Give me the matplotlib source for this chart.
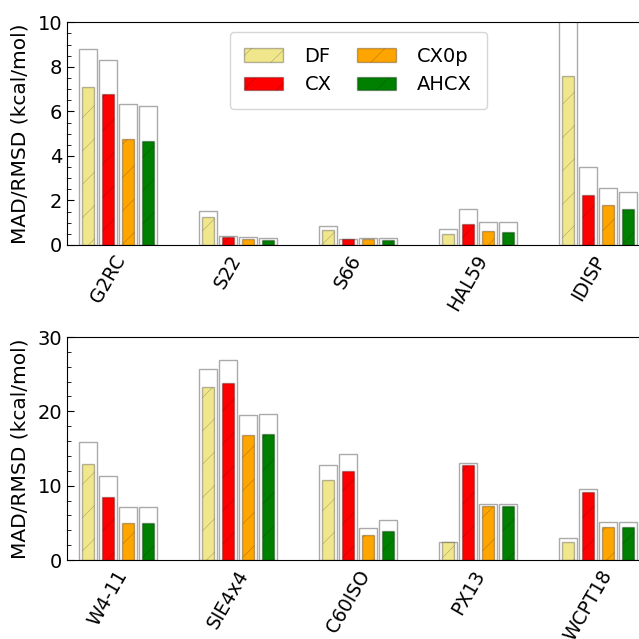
import numpy as np
import matplotlib
matplotlib.use("Agg")
import matplotlib.pyplot as plt
from matplotlib.ticker import AutoMinorLocator, MultipleLocator

methods = ["DF", "CX", "CX0p", "AHCX"]
colors = ["khaki", "red", "orange", "green"]

sets_top = ["G2RC", "S22", "S66", "HAL59", "IDISP"]
mad_top = {
    "DF":   [7.08, 1.24, 0.66, 0.48, 7.57],
    "CX":   [6.77, 0.35, 0.27, 0.93, 2.25],
    "CX0p": [4.75, 0.27, 0.27, 0.61, 1.78],
    "AHCX": [4.68, 0.24, 0.24, 0.60, 1.60],
}
rmsd_top = {
    "DF":   [8.79, 1.54, 0.87, 0.73, 13.5],
    "CX":   [8.29, 0.42, 0.28, 1.63, 3.49],
    "CX0p": [6.33, 0.37, 0.33, 1.02, 2.55],
    "AHCX": [6.26, 0.33, 0.31, 1.02, 2.37],
}

sets_bot = ["W4-11", "SIE4x4", "C60ISO", "PX13", "WCPT18"]
mad_bot = {
    "DF":   [12.87, 23.23, 10.72, 2.40, 2.38],
    "CX":   [8.48, 23.81, 11.97, 12.78, 9.15],
    "CX0p": [4.98, 16.77, 3.32, 7.27, 4.48],
    "AHCX": [4.98, 16.95, 3.95, 7.27, 4.48],
}
rmsd_bot = {
    "DF":   [15.87, 25.74, 12.74, 2.42, 2.92],
    "CX":   [11.30, 26.86, 14.30, 13.00, 9.51],
    "CX0p": [7.09, 19.46, 4.35, 7.49, 5.07],
    "AHCX": [7.09, 19.59, 5.34, 7.49, 5.07],
}

plt.rcParams["hatch.linewidth"] = 0.4

fig = plt.figure(figsize=(6.39, 6.39), dpi=100)
ax1 = fig.add_axes([0.1053, 0.6166, 0.9104, 0.3485])
ax2 = fig.add_axes([0.1053, 0.1236, 0.9104, 0.3490])


def draw(ax, sets, mad, rmsd, ymax):
    base = np.arange(len(sets)) * 6.0
    for j, m in enumerate(methods):
        ax.bar(base + j, rmsd[m], width=0.9, facecolor="white",
               edgecolor="#aaaaaa", linewidth=1.0, zorder=1)
        ax.bar(base + j, mad[m], width=0.62, facecolor=colors[j],
               edgecolor=(0, 0, 0, 0.28), linewidth=1.0, hatch="/",
               label=m, zorder=2)
    ax.set_xlim(-1.05, 28.05)
    ax.set_ylim(0, ymax)
    ax.set_xticks(base + 1.0)
    ax.set_xticklabels(sets, rotation=60, fontsize=13.5)
    ax.tick_params(axis="x", length=0, pad=5)
    ax.tick_params(axis="y", which="both", direction="in", labelsize=14)
    ax.tick_params(axis="y", which="major", length=5)
    ax.tick_params(axis="y", which="minor", length=3)
    ax.set_ylabel("MAD/RMSD (kcal/mol)", fontsize=14.5, labelpad=6)


draw(ax1, sets_top, mad_top, rmsd_top, 10)
draw(ax2, sets_bot, mad_bot, rmsd_bot, 30)
ax1.yaxis.set_major_locator(MultipleLocator(2))
ax2.yaxis.set_major_locator(MultipleLocator(10))
ax1.yaxis.set_minor_locator(AutoMinorLocator())
ax2.yaxis.set_minor_locator(AutoMinorLocator())

ax1.legend(loc="upper center", ncol=2, fontsize=14, borderpad=0.75,
           handlelength=2.0, columnspacing=1.3, handletextpad=1.1)

fig.savefig("out.png", dpi=100)
